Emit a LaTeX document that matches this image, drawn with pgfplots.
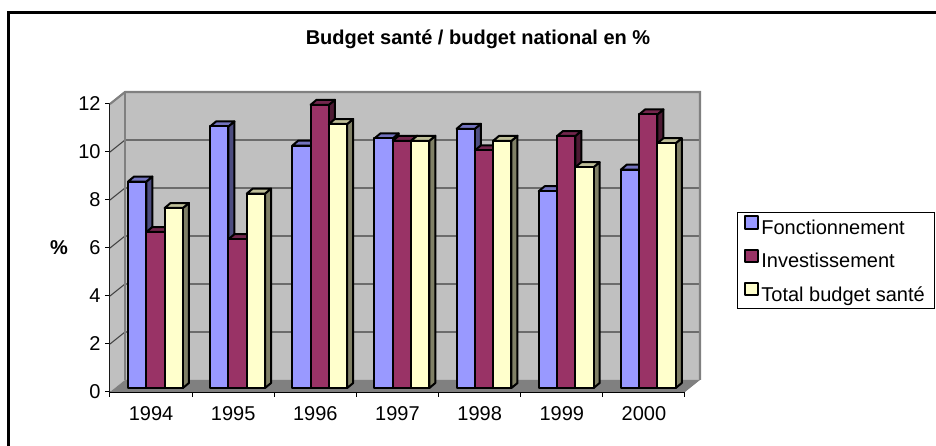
\documentclass[border=0pt]{standalone}
\usepackage{fontspec}
\setmainfont{Liberation Sans}
\usepackage{pgfplots}
\usepackage{pgfplotstable}
\pgfplotsset{compat=1.18}

\definecolor{wall}{HTML}{C0C0C0}
\definecolor{floorc}{HTML}{808080}
\definecolor{fFront}{HTML}{9999FF}
\definecolor{fSide}{HTML}{4D4D80}
\definecolor{fTop}{HTML}{7373BF}
\definecolor{iFront}{HTML}{993366}
\definecolor{iSide}{HTML}{4D1A33}
\definecolor{iTop}{HTML}{73264D}
\definecolor{tFront}{HTML}{FFFFCC}
\definecolor{tSide}{HTML}{808066}
\definecolor{tTop}{HTML}{BFBF99}

\pgfplotstableread{
pos year F I T
0.5 1994 8.6 6.5 7.5
1.5 1995 10.9 6.2 8.1
2.5 1996 10.1 11.8 11.0
3.5 1997 10.4 10.3 10.3
4.5 1998 10.8 9.9 10.3
5.5 1999 8.2 10.5 9.2
6.5 2000 9.1 11.4 10.2
}\budget

% picture is 936x446 px at 0.75pt per px
\newcommand{\bw}{0.2228}   % bar width, categories
\newcommand{\dpx}{0.073}   % bar depth, x
\newcommand{\dpy}{0.208}   % bar depth, y
\pgfplotsset{
  bar3d/.style={black,line width=1.5pt,line join=round,xshift=3.3pt,yshift=3pt,forget plot},
  swatch/.style={legend image code/.code={
    \draw[black,line width=1.5pt,fill=#1] (3pt,-3.5pt) rectangle (12.5pt,6pt);}},
}

% side and top faces, then the front bars of one series
\newcommand{\drawseries}[5]{%
  \pgfplotsinvokeforeach{0,...,6}{%
    \pgfplotstablegetelem{##1}{#1}\of{\budget}%
    \let\barval\pgfplotsretval
    \pgfmathsetmacro\xl{##1+0.5+(#2)*\bw-\bw/2}%
    \pgfmathsetmacro\xr{\xl+\bw}%
    \pgfmathsetmacro\xld{\xl+\dpx}%
    \pgfmathsetmacro\xrd{\xr+\dpx}%
    \pgfmathsetmacro\vd{\barval+\dpy}%
    \addplot[bar3d,fill=#4] coordinates {(\xr,0)(\xrd,\dpy)(\xrd,\vd)(\xr,\barval)} --cycle;
    \addplot[bar3d,fill=#5] coordinates {(\xl,\barval)(\xr,\barval)(\xrd,\vd)(\xld,\vd)} --cycle;
  }
  \addplot[ybar,bar width=13.7pt,bar shift={#2*13.7pt},black,line width=1.5pt,line join=round,
    xshift=3.3pt,yshift=3pt,fill=#3,swatch=#3] table[x=pos,y=#1] {\budget};
}

\begin{document}
\begin{tikzpicture}
\path[use as bounding box] (0,0) rectangle (702pt,334.5pt);
\draw[black,line width=2.2pt] (6.6pt,0pt) -- (6.6pt,325pt) -- (702pt,325pt);
\begin{axis}[
  at={(82.5pt,40.5pt)},anchor=south west,scale only axis,
  width=431.25pt,height=216pt,
  xmin=0,xmax=7,ymin=0,ymax=12,clip=false,
  axis lines*=left,axis line style={-,black,line width=0.9pt},
  tick align=outside,
  font=\fontsize{15}{18}\selectfont,
  /pgf/number format/assume math mode=true,
  xtick={0.5,1.5,2.5,3.5,4.5,5.5,6.5},
  xticklabels={1994,1995,1996,1997,1998,1999,2000},
  minor xtick={0,1,2,3,4,5,6,7},
  major x tick style={draw=none},
  minor x tick style={black,line width=0.75pt},
  minor tick length=3.5pt,
  ytick={0,2,4,6,8,10,12},
  y tick style={black,line width=0.75pt},
  major tick length=3.5pt,
  x tick label style={yshift=-3.5pt},
  title={\textbf{Budget santé / budget national en \%}},
  every axis title shift=0pt,
  title style={at={(rel axis cs:0.64,1.2257)},anchor=center,font=\fontsize{15}{18}\selectfont},
  ylabel={\textbf{\%}},
  ylabel style={rotate=-90,at={(rel axis cs:-0.0887,0.5)},anchor=center},
  legend style={at={(rel axis cs:1.0904,0.625)},anchor=north west,draw=black,line width=0.6pt,
    font=\fontsize{15}{18}\selectfont,row sep=7pt,inner xsep=5pt,inner ysep=2.2pt},
  legend cell align=left,
]
% walls and floor
\addplot[forget plot,fill=wall,draw=none] coordinates {(0,0)(0,12)(0.1826,12.5)(7.1826,12.5)(7.1826,0.5)(0.1826,0.5)} --cycle;
\addplot[forget plot,fill=floorc,draw=none] coordinates {(0,0)(7,0)(7.1826,0.5)(0.1826,0.5)} --cycle;
\pgfplotsinvokeforeach{2,4,6,8,10}{
  \addplot[forget plot,black!75,line width=0.8pt] coordinates {(0,#1)(0.1826,#1+0.5)(7.1826,#1+0.5)};
}
\addplot[forget plot,floorc,line width=1.6pt] coordinates {(0,12)(0.1826,12.5)(7.1826,12.5)(7.1826,0.5)};
\addplot[forget plot,floorc,line width=1.6pt] coordinates {(0.1826,12.5)(0.1826,0.5)};
% bars
\drawseries{F}{-1}{fFront}{fSide}{fTop}
\drawseries{I}{0}{iFront}{iSide}{iTop}
\drawseries{T}{1}{tFront}{tSide}{tTop}
\legend{Fonctionnement,Investissement,Total budget santé}
\end{axis}
\end{tikzpicture}
\end{document}
